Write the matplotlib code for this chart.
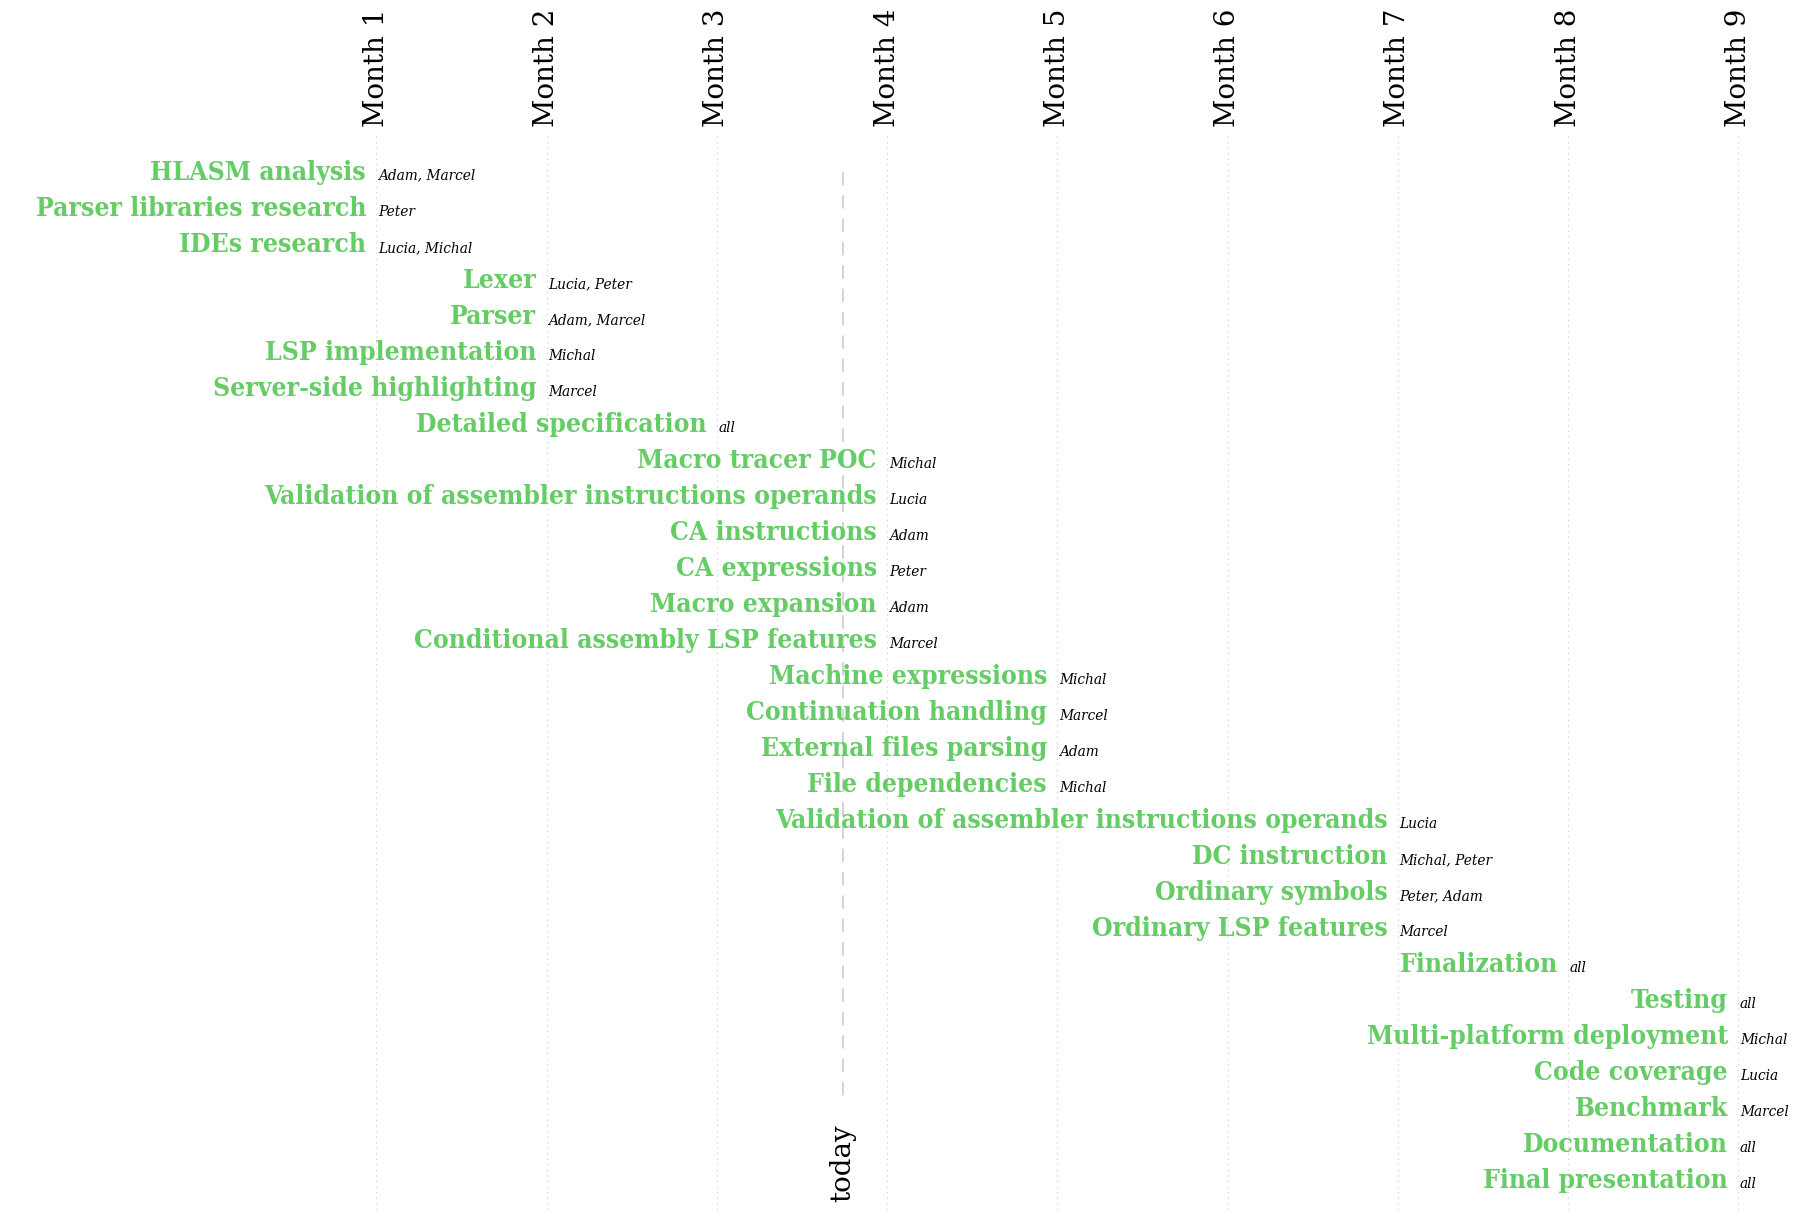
import matplotlib
matplotlib.use("Agg")
import matplotlib.pyplot as plt

tasks = ["HLASM analysis", "Parser libraries research", "IDEs research", "Lexer", "Parser",
         "LSP implementation", "Server-side highlighting", "Detailed specification",
         "Macro tracer POC", "Validation of assembler instructions operands", "CA instructions",
         "CA expressions", "Macro expansion", "Conditional assembly LSP features",
         "Machine expressions", "Continuation handling", "External files parsing",
         "File dependencies", "Validation of assembler instructions operands", "DC instruction",
         "Ordinary symbols", "Ordinary LSP features", "Finalization", "Testing",
         "Multi-platform deployment", "Code coverage", "Benchmark", "Documentation",
         "Final presentation"]
end_month = [1, 1, 1, 2, 2, 2, 2, 3, 4, 4, 4, 4, 4, 4, 5, 5, 5, 5, 7, 7, 7, 7, 8, 9, 9, 9, 9, 9, 9]
people = ["Adam, Marcel", "Peter", "Lucia, Michal", "Lucia, Peter", "Adam, Marcel", "Michal",
          "Marcel", "all", "Michal", "Lucia", "Adam", "Peter", "Adam", "Marcel", "Michal",
          "Marcel", "Adam", "Michal", "Lucia", "Michal, Peter", "Peter, Adam", "Marcel", "all",
          "all", "Michal", "Lucia", "Marcel", "all", "all"]
months = [f"Month {i}" for i in range(1, 10)]
today = 3.74

fig = plt.figure(figsize=(18.2, 12.21), dpi=100)
ax = fig.add_axes([0, 0, 1, 1])
ax.axis("off")
ax.set_xlim(-1.21, 9.48)
n = len(tasks)
step = (0.967 - 0.141) / (n - 1)
top = -0.141 / step
bottom = (1 - 0.141) / step
ax.set_ylim(bottom, top)

green = "#66cc66"
for i, m in enumerate(months, start=1):
    ax.plot([i, i], [-1.0, bottom - 0.3], color="#cccccc", lw=0.8, ls=(0, (1, 4)), zorder=0)
    ax.text(i, -1.25, m, rotation=90, ha="center", va="bottom", fontsize=20,
            family="DejaVu Serif")

ax.plot([today, today], [0, 25.7], color="#cccccc", lw=1.2, ls=(0, (8, 6)), zorder=0)
ax.text(today, 27.5, "today", rotation=90, ha="center", va="center", fontsize=20,
        family="DejaVu Serif")

for i, (t, e, p) in enumerate(zip(tasks, end_month, people)):
    ax.text(e - 0.06, i, t, ha="right", va="center", fontsize=19, fontweight="bold",
            color=green, family="DejaVu Serif", fontstretch="condensed")
    ax.text(e + 0.01, i + 0.1, p, ha="left", va="center", fontsize=11, style="italic",
            color="black", family="DejaVu Serif", fontstretch="condensed")

fig.savefig("out.png", dpi=100, facecolor="white")
